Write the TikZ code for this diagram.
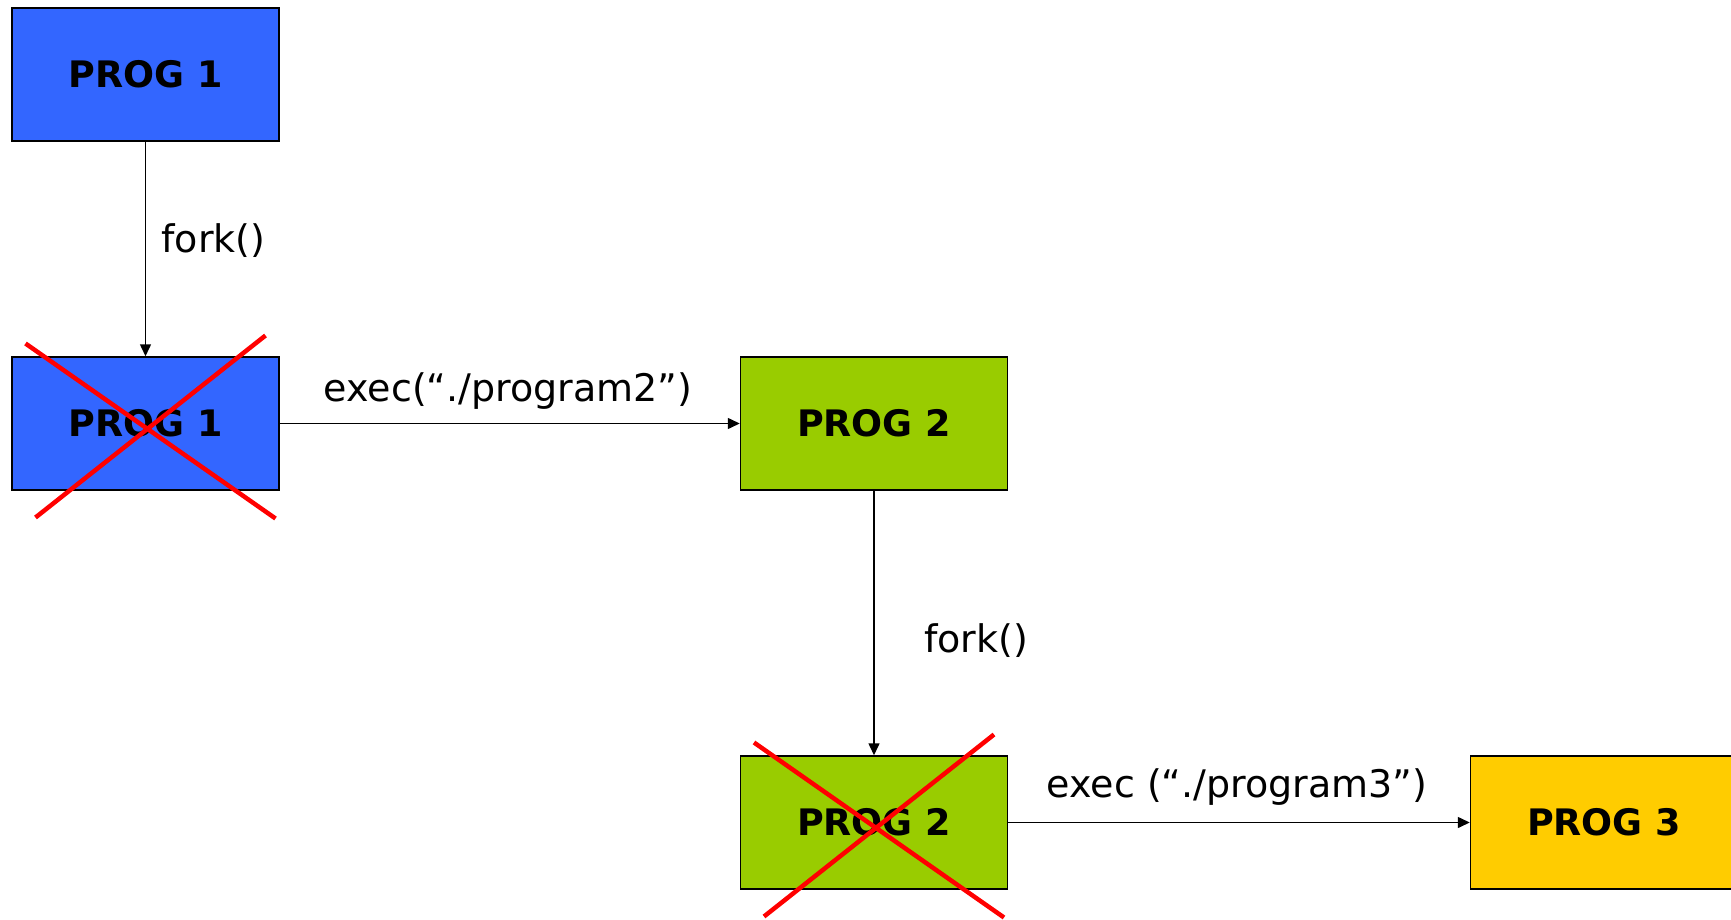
\documentclass[tikz,border=0pt]{standalone}
\usepackage{fontspec}
\setmainfont{DejaVu Sans}
\usetikzlibrary{arrows.meta}

\definecolor{progblue}{HTML}{3366FF}
\definecolor{proggreen}{HTML}{99CC00}
\definecolor{progyellow}{HTML}{FFCC00}
\definecolor{killred}{HTML}{FF0000}

\tikzset{
  progbox/.style={draw=black, line width=1.5pt, minimum width=267pt,
    minimum height=133pt, inner sep=0pt,
    font=\fontsize{36.5}{44}\selectfont\bfseries},
  link/.style={draw=black, line width=1.5pt,
    -{Triangle[length=12pt,width=11pt]}},
  calllabel/.style={font=\fontsize{38}{46}\selectfont, inner sep=0pt},
  killcross/.style={draw=killred, line width=4.5pt}
}

\begin{document}
\begin{tikzpicture}[x=1pt,y=-1pt]
  \useasboundingbox (0,0) rectangle (1731,920);
  \clip (0,0) rectangle (1731,920);

  % process boxes
  \node[progbox, fill=progblue]   (p1a) at (145.5,74.5)  {PROG 1};
  \node[progbox, fill=progblue]   (p1b) at (145.5,423.5) {PROG 1};
  \node[progbox, fill=proggreen]  (p2a) at (874,423.5)   {PROG 2};
  \node[progbox, fill=proggreen]  (p2b) at (874,822.5)   {PROG 2};
  \node[progbox, fill=progyellow] (p3)  at (1604,822.5)  {PROG 3};

  % transitions
  \draw[link] (p1a.south) -- (p1b.north);
  \draw[link] (p1b.east) -- (p2a.west);
  \draw[link] (p2a.south) -- (p2b.north);
  \draw[link] (p2b.east) -- (p3.west);

  % call labels
  \node[calllabel] (l1) at (213.5,241) {fork()};
  \node[calllabel] (l2) at (508,391) {exec(“./program2”)};
  \node[calllabel] (l3) at (976,641) {fork()};
  \node[calllabel] (l4) at (1237,787) {exec (“./program3”)};

  % replaced processes are crossed out
  \foreach \b in {p1b,p2b} {
    \draw[killcross] ([shift={(-120,-80)}]\b.center) -- ([shift={(130,95)}]\b.center);
    \draw[killcross] ([shift={(-110,94)}]\b.center) -- ([shift={(120,-88)}]\b.center);
  }
\end{tikzpicture}
\end{document}
